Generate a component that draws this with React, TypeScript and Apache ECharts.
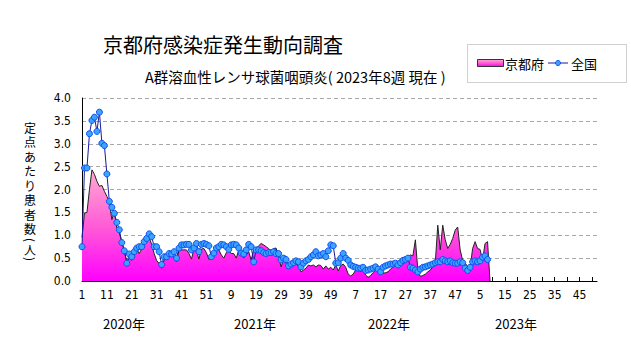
import React, { useEffect, useRef } from "react";
import * as echarts from "echarts";

const years = [2020, 2021, 2022, 2023];
const weeksPerYear = 52;
const yTicks = [0, 0.5, 1, 1.5, 2, 2.5, 3, 3.5, 4];
const yearLabels = ["2020年", "2021年", "2022年", "2023年"];
const yNameChars = ["定", "点", "あ", "た", "り", "患", "者", "数", "(", "人", ")"];

const kyoto = [
  0.95, 1.48, 1.5, 2.0, 2.43, 2.33, 2.18, 2.07, 2.09, 1.96,
  1.85, 1.72, 1.34, 1.52, 1.15, 1.05, 0.86, 0.68, 0.42, 0.5,
  0.45, 0.6, 0.7, 0.6, 0.7, 0.8, 0.95, 0.95, 0.8, 0.6,
  0.45, 0.38, 0.28, 0.46, 0.57, 0.66, 0.62, 0.53, 0.42, 0.68,
  0.68, 0.68, 0.68, 0.6, 0.48, 0.7, 0.66, 0.48, 0.7, 0.71,
  0.62, 0.47, 0.5, 0.6, 0.7, 0.68, 0.57, 0.5, 0.62, 0.68,
  0.6, 0.6, 0.5, 0.68, 0.6, 0.5, 0.57, 0.64, 0.46, 0.68,
  0.71, 0.77, 0.82, 0.79, 0.75, 0.71, 0.66, 0.71, 0.72, 0.55,
  0.31, 0.46, 0.39, 0.28, 0.42, 0.33, 0.37, 0.33, 0.2, 0.24,
  0.28, 0.35, 0.33, 0.35, 0.31, 0.35, 0.34, 0.26, 0.33, 0.26,
  0.3, 0.24, 0.35, 0.22, 0.34, 0.37, 0.3, 0.15, 0.11, 0.15,
  0.24, 0.3, 0.2, 0.28, 0.13, 0.08, 0.12, 0.18, 0.24, 0.2,
  0.24, 0.17, 0.18, 0.2, 0.26, 0.31, 0.35, 0.33, 0.39, 0.36,
  0.42, 0.53, 0.57, 0.55, 0.9, 0.24, 0.1, 0.12, 0.15, 0.2,
  0.24, 0.31, 0.4, 1.22, 0.68, 1.22, 0.9, 0.71, 0.8, 0.93,
  1.11, 1.18, 0.68, 0.45, 0.38, 0.33, 0.28, 0.71, 0.86, 0.71,
  0.69, 0.45, 0.82, 0.86, 0,
];

const national = [
  0.75, 2.47, 2.47, 3.22, 3.51, 3.58, 3.27, 3.69, 3.01, 2.96,
  2.34, 1.74, 1.61, 1.48, 1.28, 1.12, 0.84, 0.66, 0.39, 0.59,
  0.53, 0.64, 0.72, 0.75, 0.75, 0.86, 0.93, 1.03, 0.97, 0.75,
  0.75, 0.64, 0.36, 0.53, 0.53, 0.6, 0.59, 0.64, 0.5, 0.72,
  0.79, 0.79, 0.8, 0.8, 0.68, 0.72, 0.82, 0.64, 0.8, 0.82,
  0.8, 0.77, 0.53, 0.61, 0.72, 0.75, 0.8, 0.79, 0.75, 0.69,
  0.79, 0.8, 0.79, 0.72, 0.61, 0.59, 0.68, 0.8, 0.75, 0.42,
  0.68, 0.68, 0.66, 0.62, 0.6, 0.62, 0.62, 0.64, 0.6, 0.6,
  0.46, 0.5, 0.47, 0.33, 0.37, 0.4, 0.44, 0.42, 0.31, 0.39,
  0.44, 0.47, 0.53, 0.57, 0.64, 0.55, 0.57, 0.6, 0.53, 0.66,
  0.79, 0.77, 0.39, 0.4, 0.5, 0.6, 0.5, 0.45, 0.35, 0.32,
  0.3, 0.28, 0.28, 0.3, 0.23, 0.24, 0.26, 0.28, 0.31, 0.26,
  0.2, 0.3, 0.33, 0.35, 0.37, 0.37, 0.39, 0.35, 0.4, 0.45,
  0.47, 0.5, 0.3, 0.28, 0.24, 0.2, 0.26, 0.3, 0.31, 0.33,
  0.35, 0.37, 0.4, 0.42, 0.42, 0.47, 0.44, 0.42, 0.44, 0.4,
  0.39, 0.39, 0.42, 0.4, 0.28, 0.23, 0.3, 0.42, 0.44, 0.42,
  0.44, 0.52, 0.55, 0.47,
];

const categories: string[] = [];
years.forEach(() => {
  for (let w = 1; w <= weeksPerYear; w++) categories.push(String(w));
});

const JP = "'Noto Sans CJK JP', sans-serif";
const NARROW = "'Liberation Sans Narrow', 'DejaVu Sans Condensed', 'Roboto', sans-serif";

export default function App() {
  const ref = useRef<HTMLDivElement>(null);
  useEffect(() => {
    document.body.style.margin = "0";
    if (!ref.current) return;
    const chart = echarts.init(ref.current, undefined, { renderer: "svg" });
    const grad = () =>
      new echarts.graphic.LinearGradient(0, 0, 0, 1, [
        { offset: 0, color: "#ffaad2" },
        { offset: 0.55, color: "#ff55d8" },
        { offset: 1, color: "#ff00ff" },
      ]);
    const yearX = [124, 255, 389, 516];
    const yNameY = [127, 141.5, 156, 170.5, 185, 199.5, 214, 228.5, 240, 249.5, 259];
    chart.setOption({
      animation: false,
      backgroundColor: "#ffffff",
      grid: { left: 82, top: 98, width: 515, height: 183, containLabel: false },
      xAxis: {
        type: "category",
        data: categories,
        boundaryGap: false,
        axisLine: { show: true, lineStyle: { color: "#000", width: 1 } },
        axisTick: { show: true, inside: true, interval: 4, length: 4, lineStyle: { color: "#000" } },
        axisLabel: {
          interval: 9,
          margin: 8,
          color: "#000",
          fontSize: 12,
          fontFamily: NARROW,
        },
        splitLine: { show: false },
      },
      yAxis: {
        type: "value",
        min: 0,
        max: 4,
        interval: 0.5,
        axisLine: { show: true, lineStyle: { color: "#000", width: 1 } },
        axisTick: { show: false },
        axisLabel: {
          color: "#000",
          fontSize: 12,
          fontFamily: NARROW,
          margin: 11,
          formatter: (v: number) => (yTicks.includes(v) ? v.toFixed(1) : ""),
        },
        splitLine: { show: true, lineStyle: { color: "#a8a8a8", type: [4, 3], width: 1 } },
      },
      series: [
        {
          name: "京都府",
          type: "line",
          data: kyoto,
          showSymbol: false,
          symbol: "none",
          lineStyle: { color: "#222222", width: 1 },
          areaStyle: { color: grad(), opacity: 1 },
          z: 2,
        },
        {
          name: "全国",
          type: "line",
          data: national,
          symbol: "circle",
          symbolSize: 6,
          showAllSymbol: true,
          lineStyle: { color: "#1a1a9a", width: 1 },
          itemStyle: { color: "#3aa4ff", borderColor: "#1050ee", borderWidth: 1 },
          z: 3,
        },
      ],
      graphic: [
        {
          type: "text",
          left: 103,
          top: 34,
          style: { text: "京都府感染症発生動向調査", font: `20px ${JP}`, fill: "#000" },
        },
        {
          type: "text",
          left: 145,
          top: 69,
          style: { text: "A群溶血性レンサ球菌咽頭炎( 2023年8週 現在 )", font: `14.5px ${JP}`, fill: "#000" },
        },
        ...yNameChars.map((c, i) => ({
          type: "text",
          x: 30,
          y: yNameY[i],
          rotation: c === "(" || c === ")" ? -Math.PI / 2 : 0,
          style: {
            text: c,
            font: `12px ${JP}`,
            lineHeight: 12,
            fill: "#000",
            align: "center",
            verticalAlign: "middle",
          },
        })),
        ...yearLabels.map((t, i) => ({
          type: "text",
          x: yearX[i],
          y: 323,
          style: { text: t, font: `13px ${JP}`, fill: "#000", align: "center", verticalAlign: "middle" },
        })),
        {
          type: "rect",
          shape: { x: 467.5, y: 44.5, width: 159, height: 38 },
          style: { fill: "none", stroke: "#a0a0a0", lineWidth: 1, lineDash: [1, 1] },
        },
        {
          type: "rect",
          shape: { x: 477.5, y: 59.5, width: 26, height: 7 },
          style: { fill: grad(), stroke: "#333", lineWidth: 1 },
        },
        {
          type: "text",
          x: 505,
          y: 63,
          style: { text: "京都府", font: `13px ${JP}`, fill: "#000", verticalAlign: "middle" },
        },
        {
          type: "line",
          shape: { x1: 548, y1: 63, x2: 568, y2: 63 },
          style: { stroke: "#1a1a9a", lineWidth: 1 },
        },
        {
          type: "circle",
          shape: { cx: 558, cy: 63, r: 2.5 },
          style: { fill: "#3aa4ff", stroke: "#1050ee", lineWidth: 1 },
        },
        {
          type: "text",
          x: 571,
          y: 63,
          style: { text: "全国", font: `13px ${JP}`, fill: "#000", verticalAlign: "middle" },
        },
      ],
    });
    return () => chart.dispose();
  }, []);
  return <div ref={ref} style={{ width: 631, height: 347 }} />;
}
